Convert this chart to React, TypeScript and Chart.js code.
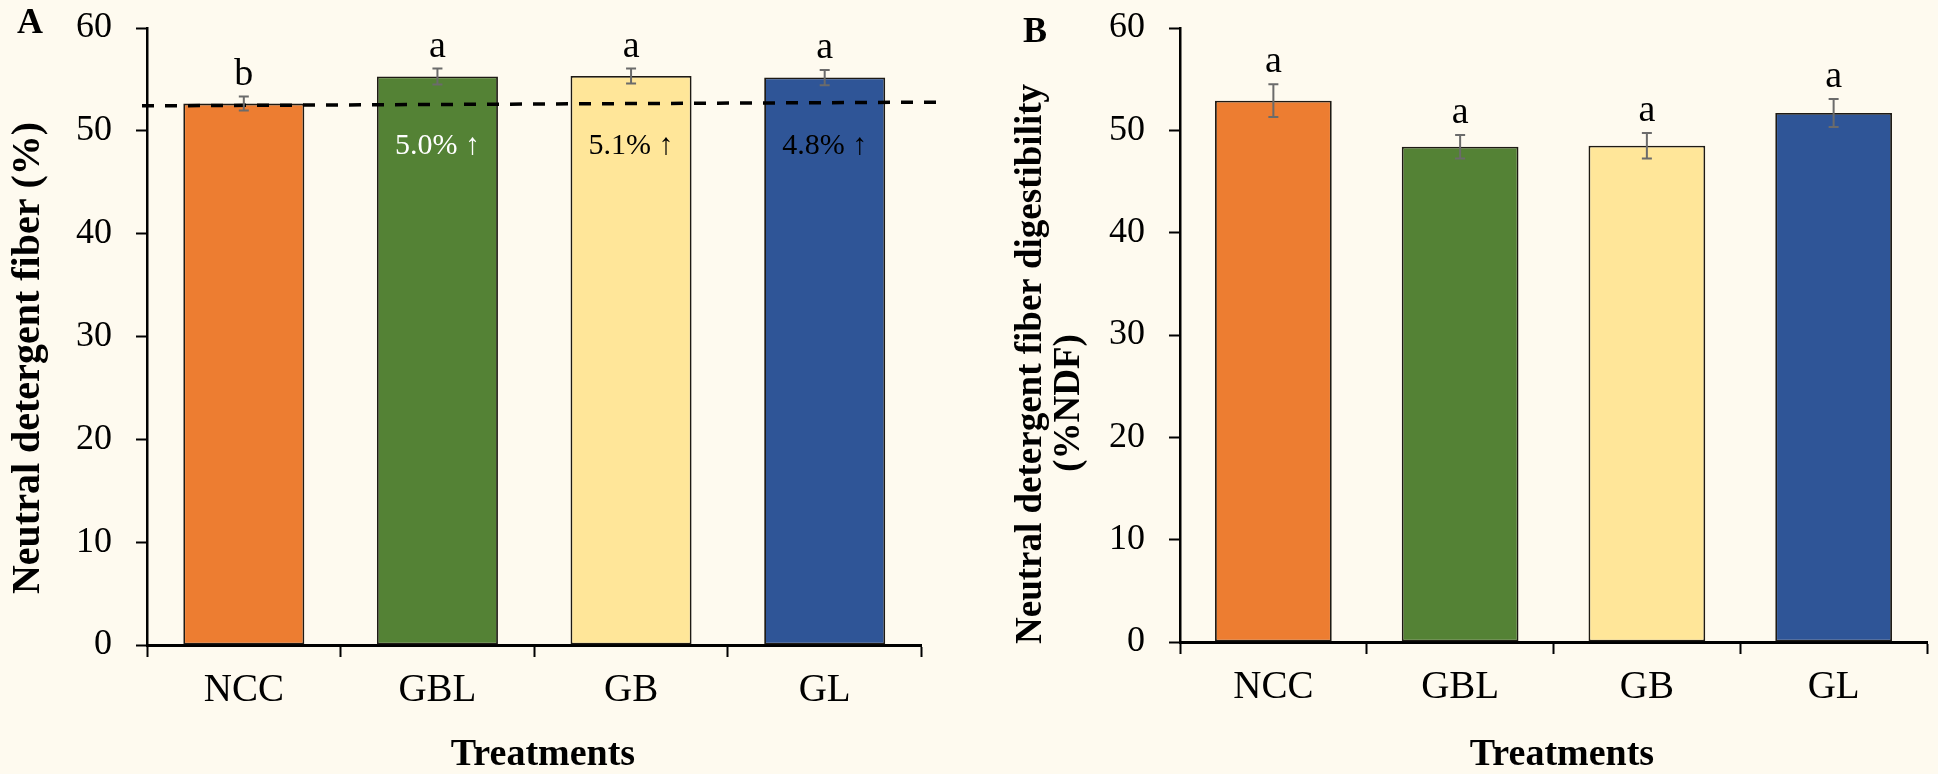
import { useEffect, useRef } from 'react';
import { Chart, registerables } from 'chart.js';

Chart.register(...registerables);

// Treatments and colours shared by both panels
const categories = ['NCC', 'GBL', 'GB', 'GL'];
const barColors = ['#ED7D31', '#548235', '#FFE699', '#2F5597'];
const yTickValues = [0, 10, 20, 30, 40, 50, 60];

// Panel A: neutral detergent fiber (%)
const ndfMean = [52.65, 55.28, 55.33, 55.18];
const ndfSe = [0.68, 0.78, 0.73, 0.74];
const ndfLetters = ['b', 'a', 'a', 'a'];
// dashed reference line at the NCC level (left end, right end)
const ndfRefLine = [52.43, 52.79];

// Panel B: neutral detergent fiber digestibility (%NDF)
const ndfdMean = [52.9, 48.4, 48.5, 51.7];
const ndfdSe = [1.6, 1.15, 1.25, 1.37];
const ndfdLetters = ['a', 'a', 'a', 'a'];

const SERIF = "'Liberation Serif', 'Times New Roman', Times, serif";
const BG = '#FEFAEF';
const W = 969;
const H = 774;
const PLOT_TOP = 28;

type PanelSpec = {
  letter: string;
  letterPos: [number, number];
  yTitle: string[];
  yTitleSize: number;
  yTitlePos: [number, number][];
  xTitlePos: [number, number];
  axisLeft: number;
  padRight: number;
  xAxisHeight: number;
  means: number[];
  se: number[];
  letters: string[];
  refLine?: number[];
  showIncrease?: boolean;
};

const increaseColors = ['#000', '#FFFFFF', '#000', '#000'];

function increaseText(i: number, means: number[]): string {
  if (i === 0) return '';
  const pct = (means[i] / means[0] - 1) * 100;
  return `${pct.toFixed(1)}% \u2191`;
}

function buildChart(canvas: HTMLCanvasElement, spec: PanelSpec): Chart {
  const overlay = {
    id: 'overlay',
    afterDatasetsDraw(chart: any) {
      const { ctx, chartArea } = chart;
      const y = chart.scales.y;
      const meta = chart.getDatasetMeta(0);
      ctx.save();
      // dashed NCC reference line
      if (spec.refLine) {
        ctx.beginPath();
        ctx.setLineDash([12, 11]);
        ctx.lineWidth = 3.5;
        ctx.strokeStyle = '#000';
        ctx.moveTo(chartArea.left - 5, y.getPixelForValue(spec.refLine[0]));
        ctx.lineTo(chartArea.right + 16, y.getPixelForValue(spec.refLine[1]));
        ctx.stroke();
        ctx.setLineDash([]);
      }
      // error bars and significance letters
      meta.data.forEach((bar: any, i: number) => {
        const top = y.getPixelForValue(spec.means[i] + spec.se[i]);
        const bot = y.getPixelForValue(spec.means[i] - spec.se[i]);
        ctx.strokeStyle = '#6B6B6B';
        ctx.lineWidth = 2;
        ctx.beginPath();
        ctx.moveTo(bar.x, top);
        ctx.lineTo(bar.x, bot);
        ctx.moveTo(bar.x - 5, top);
        ctx.lineTo(bar.x + 5, top);
        ctx.moveTo(bar.x - 5, bot);
        ctx.lineTo(bar.x + 5, bot);
        ctx.stroke();

        ctx.fillStyle = '#000';
        ctx.font = `38px ${SERIF}`;
        ctx.textAlign = 'center';
        ctx.textBaseline = 'alphabetic';
        ctx.fillText(spec.letters[i], bar.x, top - 12);

        if (spec.showIncrease && i > 0) {
          ctx.font = `30px ${SERIF}`;
          ctx.textBaseline = 'middle';
          ctx.fillStyle = increaseColors[i];
          ctx.fillText(increaseText(i, spec.means), bar.x, y.getPixelForValue(48.5));
        }
      });
      ctx.restore();
    },
    afterDraw(chart: any) {
      const { ctx } = chart;
      ctx.save();
      ctx.fillStyle = '#000';
      // panel letter
      ctx.font = `bold 36px ${SERIF}`;
      ctx.textAlign = 'left';
      ctx.textBaseline = 'alphabetic';
      ctx.fillText(spec.letter, spec.letterPos[0], spec.letterPos[1]);
      // y-axis title (rotated)
      ctx.font = `bold ${spec.yTitleSize}px ${SERIF}`;
      ctx.textAlign = 'center';
      ctx.textBaseline = 'middle';
      spec.yTitle.forEach((line, k) => {
        const [tx, ty] = spec.yTitlePos[k];
        ctx.save();
        ctx.translate(tx, ty);
        ctx.rotate(-Math.PI / 2);
        ctx.fillText(line, 0, 0);
        ctx.restore();
      });
      // x-axis title
      ctx.font = `bold 38px ${SERIF}`;
      ctx.fillText('Treatments', spec.xTitlePos[0], spec.xTitlePos[1]);
      ctx.restore();
    },
  };

  return new Chart(canvas, {
    type: 'bar',
    data: {
      labels: categories,
      datasets: [
        {
          data: spec.means,
          backgroundColor: barColors,
          borderColor: '#1E1A14',
          borderWidth: 1.8,
          borderSkipped: false,
          barPercentage: 0.625,
          categoryPercentage: 1,
        },
      ],
    },
    options: {
      responsive: false,
      animation: false,
      devicePixelRatio: 1,
      layout: { padding: { top: PLOT_TOP, right: spec.padRight, left: 0, bottom: 0 } },
      plugins: { legend: { display: false }, tooltip: { enabled: false } },
      scales: {
        x: {
          offset: true,
          grid: {
            display: true,
            offset: true,
            drawOnChartArea: false,
            drawTicks: true,
            tickLength: 12,
            tickWidth: 2,
            tickColor: '#000',
          },
          border: { display: true, color: '#000', width: 3 },
          ticks: { color: '#000', font: { family: SERIF, size: 39 }, padding: 10 },
          afterFit: (s: any) => {
            s.height = spec.xAxisHeight;
          },
        },
        y: {
          min: 0,
          max: 60,
          afterBuildTicks: (s: any) => {
            s.ticks = yTickValues.map((v) => ({ value: v }));
          },
          grid: {
            display: true,
            drawOnChartArea: false,
            drawTicks: true,
            tickLength: 11,
            tickWidth: 2,
            tickColor: '#000',
          },
          border: { display: true, color: '#000', width: 2.5 },
          // small line height so the top label does not push the plot area down
          ticks: { color: '#000', font: { family: SERIF, size: 36, lineHeight: 0.1 }, padding: 24 },
          afterFit: (s: any) => {
            s.width = spec.axisLeft;
          },
        },
      },
    },
    plugins: [overlay],
  });
}

const panelA: PanelSpec = {
  letter: 'A',
  letterPos: [17, 33],
  yTitle: ['Neutral detergent fiber (%)'],
  yTitleSize: 40,
  yTitlePos: [[29, 358]],
  xTitlePos: [543, 755],
  axisLeft: 147,
  padRight: 47.5,
  xAxisHeight: 129,
  means: ndfMean,
  se: ndfSe,
  letters: ndfLetters,
  refLine: ndfRefLine,
  showIncrease: true,
};

const panelB: PanelSpec = {
  letter: 'B',
  letterPos: [54, 42],
  yTitle: ['Neutral detergent fiber digestibility', '(%NDF)'],
  yTitleSize: 37,
  yTitlePos: [
    [62, 364],
    [100, 403],
  ],
  xTitlePos: [593, 755],
  axisLeft: 211,
  padRight: 11,
  xAxisHeight: 132,
  means: ndfdMean,
  se: ndfdSe,
  letters: ndfdLetters,
};

function Panel({ spec, left }: { spec: PanelSpec; left: number }) {
  const ref = useRef<HTMLCanvasElement>(null);
  useEffect(() => {
    if (!ref.current) return;
    const chart = buildChart(ref.current, spec);
    return () => chart.destroy();
  }, [spec]);
  return (
    <canvas
      ref={ref}
      width={W}
      height={H}
      style={{ position: 'absolute', left, top: 0, width: W, height: H }}
    />
  );
}

export default function App() {
  return (
    <div
      style={{
        position: 'fixed',
        left: 0,
        top: 0,
        width: 1938,
        height: 774,
        background: BG,
        overflow: 'hidden',
      }}
    >
      <Panel spec={panelA} left={0} />
      <Panel spec={panelB} left={969} />
    </div>
  );
}
